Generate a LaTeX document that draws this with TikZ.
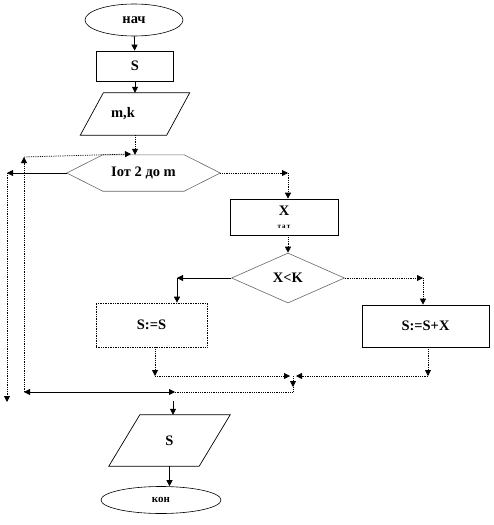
\documentclass[tikz,border=0pt]{standalone}
\usepackage{fontspec}
\setmainfont{Liberation Serif}
\usepackage{tikz}
\usetikzlibrary{arrows.meta,shapes.geometric,calc}
\definecolor{ink}{HTML}{000000}
\definecolor{edge}{HTML}{666666}
\tikzset{
  font=\bfseries\fontsize{14.5}{16}\selectfont,
  >={Triangle[length=6pt,width=6pt]},
  term/.style={ellipse, draw=ink, line width=0.6pt, inner sep=0pt},
  procbox/.style={draw=ink, line width=0.7pt, inner sep=0pt, align=center},
  iobox/.style={inner sep=0pt},
  iofrm/.style={draw=ink, line width=0.7pt},
  cycbox/.style={inner sep=0pt},
  cycfrm/.style={draw=edge, line width=0.6pt},
  test/.style={diamond, draw=edge, line width=0.6pt, inner sep=0pt, aspect=2.2},
  flow/.style={->, draw=ink, line width=0.8pt},
  dflow/.style={flow, densely dotted},
  dline/.style={draw=ink, line width=0.8pt, densely dotted},
  twoway/.style={<->, draw=ink, line width=0.8pt}
}

\begin{document}
\begin{tikzpicture}[x=1pt,y=-1pt]
  \useasboundingbox (0,0) rectangle (493,525);

  \node[term, minimum width=98pt, minimum height=32pt] (start) at (134,20) {нач};
  \node[procbox, minimum width=77pt, minimum height=30pt] (s0) at (135,66) {S};
  \node[iobox, minimum width=86pt, minimum height=42pt] (in1) at (135,114) {m,k\hspace*{24pt}};
  \node[cycbox, minimum width=153pt, minimum height=36pt] (loop) at (143.5,173) {Іот 2 до m};
  \node[procbox, minimum width=108pt, minimum height=36pt] (xin) at (284,217) {X\\[-3pt]{\fontsize{7}{8}\selectfont т\,а\,т}};
  \node[test, minimum width=113pt, minimum height=50pt] (cmp) at (288,278) {X<K};
  \node[procbox, densely dotted, minimum width=111pt, minimum height=44pt] (a1) at (151.5,325) {S:=S};
  \node[procbox, minimum width=127pt, minimum height=42pt] (a2) at (425.5,326) {S:=S+X};
  \node[iobox, minimum width=90pt, minimum height=51pt] (out) at (169.5,440.5) {S};
  \node[term, minimum width=120pt, minimum height=27pt, font=\bfseries\fontsize{11}{12}\selectfont] (stop) at (161,500) {кон};

  % frames of the input/output and loop blocks
  \draw[iofrm] ([xshift=-11.5pt]in1.south west) -- ([xshift=11.5pt]in1.north west)
    -- ([xshift=11.5pt]in1.north east) -- ([xshift=-11.5pt]in1.south east) -- cycle;
  \draw[iofrm] ([xshift=-15.5pt]out.south west) -- ([xshift=15.5pt]out.north west)
    -- ([xshift=15.5pt]out.north east) -- ([xshift=-15.5pt]out.south east) -- cycle;
  \draw[cycfrm] (loop.west) -- ([xshift=36pt]loop.north west) -- ([xshift=-36pt]loop.north east)
    -- (loop.east) -- ([xshift=-36pt]loop.south east) -- ([xshift=36pt]loop.south west) -- cycle;

  \coordinate (top) at (24,157);
  \coordinate (tin) at (131,154);
  \coordinate (bl) at (24,392);
  \coordinate (bm) at (175,392);
  \coordinate (br) at (293,392);
  \coordinate (jn) at (293,376);
  \coordinate (jd) at (293,387);
  \coordinate (lj) at (155,376);
  \coordinate (rj) at (428,376);
  \coordinate (ex) at (7,173);
  \coordinate (exd) at (7,402);
  \coordinate (rt) at (288,173);
  \coordinate (lt) at (177,278);
  \coordinate (rr) at (423,278);
  \coordinate (od) at (173,401);

  \draw[flow] (start) -- (s0);
  \draw[flow] (s0) -- (in1);
  \draw[dflow] (in1) -- (in1 |- loop.north);
  \draw[dflow] (bl) -- (top);
  \draw[dflow] (top) -- (tin);
  \draw[flow] (loop.west) -- (ex);
  \draw[dflow] (ex) -- (exd);
  \draw[dflow] (loop.east) -- (rt);
  \draw[dflow] (rt) -- (rt |- xin.north);
  \draw[dflow] (xin.south -| cmp) -- (cmp.north);
  \draw[flow] (cmp.west) -- (lt);
  \draw[flow] (lt) -- (lt |- a1.north);
  \draw[dflow] (cmp.east) -- (rr);
  \draw[dflow] (rr) -- (rr |- a2.north);
  \draw[dflow] (a1.south -| lj) -- (lj);
  \draw[dflow] (lj) -- ([xshift=-3pt]jn);
  \draw[dflow] (a2.south -| rj) -- (rj);
  \draw[dflow] (rj) -- ([xshift=3pt]jn);
  \draw[dflow] (jn) -- (jd);
  \draw[dline] (jd) -- (br) -- (bm);
  \draw[twoway] (bl) -- (bm);
  \draw[flow] (od) -- (od |- out.north);
  \draw[flow] (out.south) -- (out.south |- stop.north);
\end{tikzpicture}
\end{document}
